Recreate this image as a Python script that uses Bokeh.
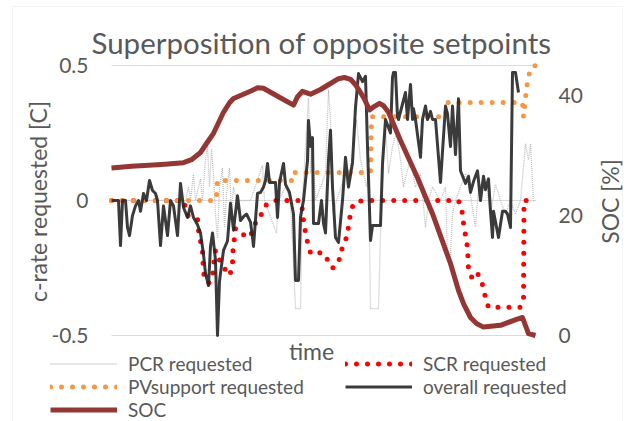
from math import pi
from bokeh.plotting import figure
from bokeh.models import Range1d, Label, Legend, LegendItem, BoxAnnotation
from bokeh.core.properties import value
from bokeh.embed import file_html
from bokeh.resources import INLINE

TITLE = "Superposition of opposite setpoints"
Y_LABEL = "c-rate requested [C]"
Y2_LABEL = "SOC [%]"
X_LABEL = "time"
left_ticks = [-0.5, 0, 0.5]
left_tick_labels = ["-0.5", "0", "0.5"]
right_ticks = [0, 20, 40]
right_tick_labels = ["0", "20", "40"]

# SOC [%]
soc_time = [0, 20, 50, 72, 80, 89, 95, 102, 112, 118, 122, 129, 140, 146, 152, 167, 182, 186, 191, 196, 199,
            209, 219, 227, 233, 239, 244, 252, 258, 263, 268, 272, 277, 289, 306, 321, 339, 347, 352, 359,
            365, 372, 389, 405, 411, 417, 424]
soc_pct = [27.9, 28.2, 28.5, 28.8, 29.3, 30.5, 32, 33.7, 37.2, 38.8, 39.5, 40, 40.8, 41.3, 41.2, 39.8, 38.4,
           39.8, 40.7, 40.4, 40.2, 41, 42, 42.8, 43, 42.7, 41.8, 39.7, 37.6, 38.2, 38.7, 38.3, 37.2, 32.5,
           26.3, 20.3, 12, 7.5, 5.3, 3, 2, 1.4, 1.7, 2.7, 3, 0.3, 0]

# PV support requested [C]
pv_time = [0, 104, 105, 106, 182, 183, 259, 260, 334, 336, 411, 412, 414, 416, 419, 424]
pv_req = [0, 0, 0.02, 0.074, 0.074, 0.104, 0.104, 0.31, 0.31, 0.363, 0.363, 0.31, 0.38, 0.44, 0.49, 0.5]

# SCR requested [C]
scr_time = [0, 72, 76, 86, 87, 91, 92, 97, 101, 102, 104, 107, 112, 116, 119, 121, 121.5, 124, 129, 134, 139,
            142, 146, 151, 154, 162, 189, 191, 192, 194, 196, 199, 201, 209, 214, 218, 221, 224, 227, 229,
            232, 236, 237, 239, 242, 251, 347, 351, 352, 354, 356, 356.5, 357, 361, 364, 367, 369, 372, 374,
            377, 409, 412, 412.5, 424]
scr_req = [0, 0, -0.055, -0.067, -0.11, -0.19, -0.27, -0.307, -0.285, -0.24, -0.185, -0.215, -0.24, -0.278,
           -0.267, -0.23, -0.185, -0.104, -0.11, -0.137, -0.13, -0.104, -0.063, -0.048, -0.018, 0, 0, -0.037,
           -0.074, -0.118, -0.155, -0.193, -0.2, -0.193, -0.2, -0.24, -0.25, -0.245, -0.23, -0.197, -0.16,
           -0.13, -0.093, -0.048, -0.011, 0, 0, -0.048, -0.085, -0.13, -0.174, -0.215, -0.26, -0.29, -0.27,
           -0.275, -0.296, -0.32, -0.363, -0.395, -0.395, -0.37, 0, 0]

# PCR requested [C]
pcr_time = [0, 74, 77, 79, 82, 84, 89, 91, 94, 96, 98, 100, 102, 104, 106, 108, 111, 113, 115, 118, 120, 122,
            125, 139, 151, 153, 165, 167, 174, 179, 184, 189, 191, 194, 197, 199, 201, 204, 209, 214, 217,
            219, 222, 225, 234, 239, 242, 245, 249, 252, 255, 257, 259, 267, 270, 274, 277, 281, 285, 289,
            292, 295, 299, 304, 309, 314, 317, 321, 329, 334, 336, 339, 341, 344, 349, 354, 359, 364, 367,
            374, 379, 384, 389, 394, 399, 404, 409, 414, 417, 419, 422, 424]
pcr_req = [0, 0, 0.05, 0, 0.1, 0, 0.08, 0, 0.15, 0.2, 0.05, 0.19, 0.1, -0.05, -0.14, 0.05, 0.12, -0.1, 0.02,
           0.12, -0.05, 0.05, 0, 0, 0.13, 0, -0.12, 0, 0.05, 0, -0.4, -0.4, 0, 0.2, 0.38, 0.1, 0.2, 0, 0.05,
           0.1, 0.41, 0.3, -0.05, 0, 0.1, 0.12, 0.2, 0.3, 0.15, 0.1, 0.05, 0.1, -0.4, -0.4, 0, 0.27, 0.1,
           0.2, 0.25, 0.15, 0.05, 0.1, 0.15, 0.05, 0.1, -0.1, 0, 0.05, 0, 0.05, -0.21, -0.2, -0.05, 0, 0.05,
           0.1, 0.02, -0.1, 0.05, 0.08, -0.05, 0.06, 0, -0.05, 0, -0.05, 0, 0.21, 0.15, 0.21, 0, 0]

# overall requested [C]
all_time = [0, 7, 9, 11, 14, 16, 18, 21, 24, 27, 29, 32, 35, 38, 41, 44, 46, 49, 52, 56, 59, 62, 66, 69, 72,
            76, 79, 82, 86, 89, 92, 94, 97, 99, 101, 104, 106, 108, 109, 112, 116, 119, 122, 126, 129, 132,
            135, 139, 141, 142, 146, 149, 152, 154, 156, 158, 164, 166, 168, 172, 174, 178, 182, 184, 187,
            189, 192, 196, 197, 199, 201, 202, 207, 210, 212, 214, 217, 219, 221, 224, 227, 231, 234, 237,
            241, 244, 247, 251, 254, 256, 259, 261, 269, 271, 274, 279, 281, 282, 284, 286, 287, 294, 296,
            299, 301, 302, 304, 309, 311, 314, 316, 319, 321, 324, 329, 334, 336, 339, 341, 344, 347, 349,
            354, 357, 359, 362, 366, 369, 372, 374, 377, 379, 381, 382, 387, 391, 394, 396, 399, 401, 404,
            407, 409, 411, 412, 422, 424]
all_req = [0, 0, -0.167, 0, 0, -0.1, -0.13, -0.056, -0.02, 0, -0.04, 0.026, 0, 0.074, 0.037, 0.026, 0,
           -0.167, -0.02, -0.13, 0, -0.02, -0.13, 0.063, -0.026, -0.063, -0.02, -0.063, -0.09, -0.12, -0.2,
           -0.27, -0.315, -0.17, -0.12, -0.22, -0.5, -0.3, -0.27, -0.185, -0.15, -0.01, -0.11, 0.018,
           -0.074, -0.06, -0.05, -0.08, -0.137, -0.17, 0.026, 0.03, 0.05, 0.074, 0.137, 0.067, 0.067,
           -0.063, 0.067, 0.137, 0.06, 0.03, -0.05, -0.296, -0.296, -0.06, 0, 0.148, 0.296, 0.2, 0.233,
           -0.085, -0.085, 0, -0.085, -0.12, 0.15, 0.26, 0.05, -0.137, -0.155, 0, 0.16, 0.05, 0.14, 0.345,
           0.47, 0.44, 0.46, 0.2, -0.148, -0.093, -0.093, 0.137, 0.3, 0.25, 0.456, 0.474, 0.474, 0.31, 0.3,
           0.4, 0.3, 0.43, 0.3, 0.34, 0.3, 0.16, 0.3, 0.35, 0.3, 0.33, 0.3, 0.3, 0.067, 0.35, 0.32, 0.2,
           0.35, 0.17, 0.377, 0.11, 0.063, 0.09, 0.03, 0.07, 0.11, 0.0, 0.09, 0.04, 0.08, -0.04, -0.137,
           -0.04, -0.137, -0.04, -0.04, -0.05, -0.1, 0.474, 0.474, 0.4]

FONT = "Lato"
TXT = "#595959"

# canvas and plot-area geometry (pixels)
W, H = 633, 421
FL, FR, FT, FB = 111, 535, 65, 335
t0, t1 = min(soc_time), max(soc_time)
c0, c1 = left_ticks[0], left_ticks[-1]
s0, s1 = 0, 45
xpp = (t1 - t0) / (FR - FL)
ypp = (c1 - c0) / (FB - FT)
spp = (s1 - s0) / (FB - FT)

p = figure(width=W, height=H, output_backend="svg", toolbar_location=None,
           x_axis_location=None, y_axis_location=None, title_location=None,
           x_range=Range1d(t0 - FL * xpp, t1 + (W - FR) * xpp),
           y_range=Range1d(c0 - (H - FB) * ypp, c1 + FT * ypp),
           min_border=0)
p.outline_line_color = None
p.grid.visible = False
p.extra_y_ranges = {"soc": Range1d(s0 - (H - FB) * spp, s1 + FT * spp)}

# chart border
p.add_layout(BoxAnnotation(left=12, right=622, top=H - 6, bottom=-5, left_units="screen",
                           right_units="screen", top_units="screen", bottom_units="screen",
                           fill_alpha=0, line_color="#D9D9D9", line_width=1))

# gridlines and tick labels
p.segment(x0=[t0] * len(left_ticks), x1=[t1] * len(left_ticks), y0=left_ticks, y1=left_ticks,
          line_color="#D9D9D9", line_width=1)
p.text(x=[t0] * len(left_ticks), y=left_ticks, text=left_tick_labels, x_offset=-23,
       text_align="right", text_baseline="middle", text_font=value(FONT), text_font_size="21px",
       text_color=TXT)
p.text(x=[t1] * len(right_ticks), y=right_ticks, text=right_tick_labels, x_offset=23, y_range_name="soc",
       text_align="left", text_baseline="middle", text_font=value(FONT), text_font_size="21px",
       text_color=TXT)

r_pcr = p.line(pcr_time, pcr_req, line_color="#BFBFBF", line_width=1.3, line_dash="1 1")
r_scr = p.line(scr_time, scr_req, line_color="#FF0000", line_width=5, line_dash="0 11", line_cap="round")
r_pv = p.line(pv_time, pv_req, line_color="#F79646", line_width=5, line_dash="0 11", line_cap="round")
r_all = p.line(all_time, all_req, line_color="#262626", line_width=3, line_alpha=0.9, line_join="round")
r_soc = p.line(soc_time, soc_pct, y_range_name="soc", line_color="#943634", line_width=5, line_join="round")

def lab(text, px, py, size, angle=0):
    p.add_layout(Label(x=px, y=H - py, x_units="screen", y_units="screen", text=text, angle=angle,
                       text_align="center", text_baseline="middle", text_font=FONT,
                       text_font_size=size, text_color=TXT))

lab(TITLE, 321, 42, "29.5px")
lab(Y_LABEL, 37, 201, "23px", pi / 2)
lab(Y2_LABEL, 609, 201, "23px", pi / 2)
lab(X_LABEL, 311, 350, "23px")

legend = Legend(items=[
    LegendItem(label="PCR requested", renderers=[r_pcr]),
    LegendItem(label="PVsupport requested", renderers=[r_pv]),
    LegendItem(label="SOC", renderers=[r_soc]),
    LegendItem(label="SCR requested", renderers=[r_scr]),
    LegendItem(label="overall requested", renderers=[r_all]),
], ncols=2, location=(50, 0), padding=0, margin=0, spacing=0,
    glyph_width=67, glyph_height=21, label_height=21, label_standoff=11, label_width=217,
    label_text_font=FONT, label_text_font_size="19px", label_text_color=TXT,
    border_line_color=None, background_fill_alpha=0)
p.add_layout(legend, "center")

open("out.html", "w").write(file_html(p, INLINE))
